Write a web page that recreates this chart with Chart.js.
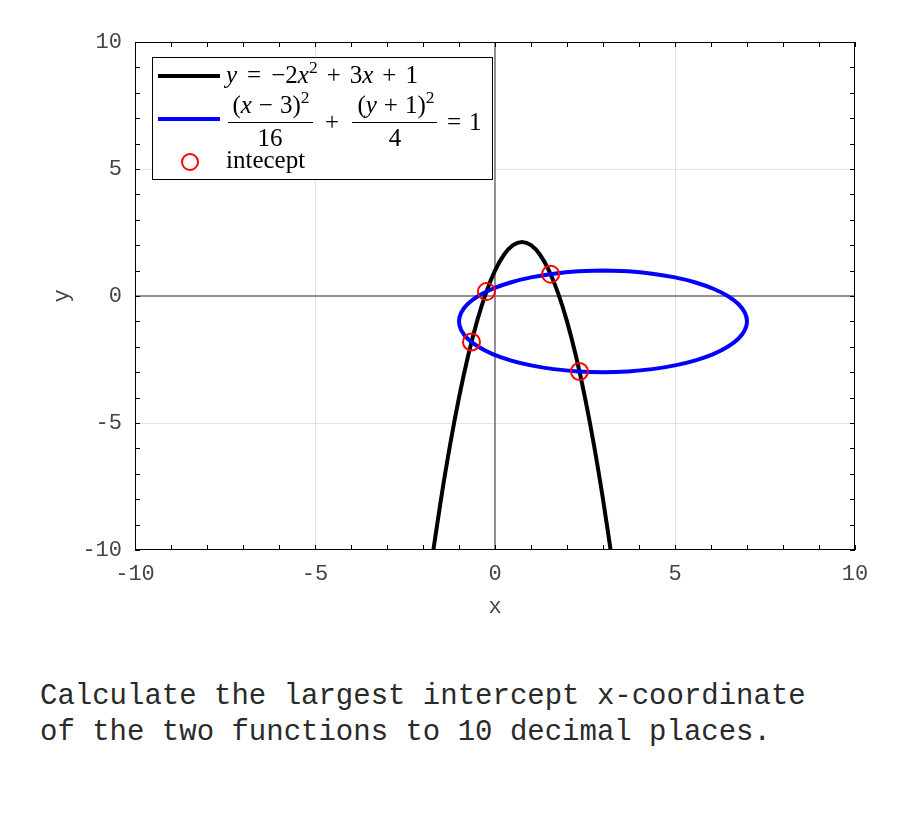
<!DOCTYPE html>
<html>
<head>
<meta charset="utf-8">
<script src="https://cdn.jsdelivr.net/npm/chart.js@4.4.1/dist/chart.umd.min.js"></script>
<style>
  body { margin: 0; background: #fff; }
  #wrap { position: relative; width: 900px; height: 640px; }
  #question { position: absolute; left: 40px; top: 679px; margin: 0; font: 29px/36px "Liberation Mono", monospace; color: #2a2a2a; white-space: pre; }
</style>
</head>
<body>
<div id="wrap"><canvas id="curveChart"></canvas></div>
<pre id="question">Calculate the largest intercept x-coordinate
of the two functions to 10 decimal places.</pre>
<script>
// y = -2x^2 + 3x + 1
const parabolaX = [-1.712, -1.5, -1.25, -1, -0.75, -0.5, -0.25, 0, 0.25, 0.5, 0.75, 1, 1.25, 1.5, 1.75, 2, 2.25, 2.5, 2.75, 3, 3.212];
const parabolaY = [-10, -8, -5.875, -4, -2.375, -1, 0.125, 1, 1.625, 2, 2.125, 2, 1.625, 1, 0.125, -1, -2.375, -4, -5.875, -8, -10];

// (x-3)^2/16 + (y+1)^2/4 = 1, starting at the top and going clockwise
const ellipseX = [3, 3.695, 4.368, 5.000, 5.571, 6.064, 6.464, 6.759, 6.939, 7, 6.939, 6.759, 6.464, 6.064, 5.571, 5.000, 4.368, 3.695,
  3, 2.305, 1.632, 1.000, 0.429, -0.064, -0.464, -0.759, -0.939, -1, -0.939, -0.759, -0.464, -0.064, 0.429, 1.000, 1.632, 2.305, 3];
const ellipseY = [1, 0.970, 0.879, 0.732, 0.532, 0.286, 0.000, -0.316, -0.653, -1, -1.347, -1.684, -2.000, -2.286, -2.532, -2.732, -2.879, -2.970,
  -3, -2.970, -2.879, -2.732, -2.532, -2.286, -2.000, -1.684, -1.347, -1, -0.653, -0.316, 0.000, 0.286, 0.532, 0.732, 0.879, 0.970, 1];

const interceptX = [-0.653, -0.238, 1.545, 2.346];
const interceptY = [-1.812, 0.173, 0.861, -2.970];

const tickValues = [-10, -5, 0, 5, 10];
const minorTicks = [-10, -9, -8, -7, -6, -5, -4, -3, -2, -1, 0, 1, 2, 3, 4, 5, 6, 7, 8, 9, 10];

const toPoints = (xs, ys) => xs.map((x, i) => ({ x: x, y: ys[i] }));

const monoFont = { family: '"Liberation Mono", monospace', size: 22 };
const labelColor = '#444';
const serif = '"Liberation Serif", "DejaVu Serif", serif';

function gridColor(ctx) {
  const v = ctx.tick.value;
  return (v === 5 || v === -5) ? '#e3e3e3' : 'rgba(0,0,0,0)';
}

// runs: {t: text, i: italic, sup: superscript} or {gap: px}
function drawRuns(ctx, runs, x, y, size, align) {
  const parts = runs.map(r => {
    if (r.gap) return { r: r, w: r.gap };
    const s = r.sup ? size * 0.7 : size;
    const font = (r.i ? 'italic ' : '') + s + 'px ' + serif;
    ctx.font = font;
    return { r: r, font: font, w: ctx.measureText(r.t).width, dy: r.sup ? -size * 0.42 : 0 };
  });
  const total = parts.reduce((a, p) => a + p.w, 0);
  let cx = align === 'center' ? x - total / 2 : x;
  parts.forEach(p => {
    if (!p.r.gap) {
      ctx.font = p.font;
      ctx.fillText(p.r.t, cx, y + p.dy);
    }
    cx += p.w;
  });
  return total;
}

const axesPlugin = {
  id: 'axesPlugin',
  beforeDatasetsDraw(chart) {
    const { ctx, chartArea: a, scales: { x, y } } = chart;
    ctx.save();
    ctx.strokeStyle = '#6e6e6e';
    ctx.lineWidth = 1.5;
    ctx.beginPath();
    const x0 = x.getPixelForValue(0), y0 = y.getPixelForValue(0);
    ctx.moveTo(x0, a.top); ctx.lineTo(x0, a.bottom);
    ctx.moveTo(a.left, y0); ctx.lineTo(a.right, y0);
    ctx.stroke();
    ctx.restore();
  },
  afterDraw(chart) {
    const { ctx, chartArea: a, scales: { x, y } } = chart;
    ctx.save();
    // frame + minor ticks
    ctx.strokeStyle = '#000';
    ctx.lineWidth = 1;
    ctx.strokeRect(a.left + 0.5, a.top + 0.5, a.right - a.left - 1, a.bottom - a.top - 1);
    ctx.beginPath();
    minorTicks.forEach(v => {
      const px = Math.round(x.getPixelForValue(v)) + 0.5;
      const py = Math.round(y.getPixelForValue(v)) + 0.5;
      ctx.moveTo(px, a.bottom); ctx.lineTo(px, a.bottom - 5);
      ctx.moveTo(px, a.top); ctx.lineTo(px, a.top + 5);
      ctx.moveTo(a.left, py); ctx.lineTo(a.left + 5, py);
      ctx.moveTo(a.right, py); ctx.lineTo(a.right - 5, py);
    });
    ctx.stroke();

    // legend
    const ds = chart.data.datasets;
    const size = 25;
    ctx.fillStyle = '#fff';
    ctx.fillRect(152, 57, 340, 122);
    ctx.strokeStyle = '#000';
    ctx.strokeRect(152.5, 57.5, 340, 122);
    ctx.lineWidth = 4;
    ctx.strokeStyle = ds[0].borderColor;
    ctx.beginPath(); ctx.moveTo(158, 76); ctx.lineTo(220, 76); ctx.stroke();
    ctx.strokeStyle = ds[1].borderColor;
    ctx.beginPath(); ctx.moveTo(158, 119); ctx.lineTo(220, 119); ctx.stroke();
    ctx.strokeStyle = ds[2].borderColor;
    ctx.lineWidth = 2;
    ctx.beginPath(); ctx.arc(190, 162, 8, 0, Math.PI * 2); ctx.stroke();

    ctx.fillStyle = '#000';
    ctx.strokeStyle = '#000';
    ctx.textAlign = 'left';
    ctx.textBaseline = 'alphabetic';
    drawRuns(ctx, [{ t: 'y', i: true }, { gap: 10 }, { t: '=' }, { gap: 10 }, { t: '\u22122' }, { t: 'x', i: true }, { t: '2', sup: true },
      { gap: 9 }, { t: '+' }, { gap: 9 }, { t: '3' }, { t: 'x', i: true }, { gap: 9 }, { t: '+' }, { gap: 9 }, { t: '1' }], 226, 83, size);
    // fractions
    drawRuns(ctx, [{ t: '(' }, { t: 'x', i: true }, { gap: 7 }, { t: '\u2212' }, { gap: 7 }, { t: '3)' }, { t: '2', sup: true }], 271, 113, size, 'center');
    drawRuns(ctx, [{ t: '16' }], 270, 146, size, 'center');
    drawRuns(ctx, [{ t: '+' }], 332, 130, size, 'center');
    drawRuns(ctx, [{ t: '(' }, { t: 'y', i: true }, { gap: 7 }, { t: '+' }, { gap: 7 }, { t: '1)' }, { t: '2', sup: true }], 396, 113, size, 'center');
    drawRuns(ctx, [{ t: '4' }], 395, 146, size, 'center');
    drawRuns(ctx, [{ t: '=' }, { gap: 8 }, { t: '1' }], 447, 130, size);
    ctx.lineWidth = 1;
    ctx.beginPath();
    ctx.moveTo(228, 122.5); ctx.lineTo(313, 122.5);
    ctx.moveTo(352, 122.5); ctx.lineTo(437, 122.5);
    ctx.stroke();
    drawRuns(ctx, [{ t: 'intecept' }], 226, 168, size);
    ctx.restore();
  }
};

const config = {
  type: 'scatter',
  data: {
    datasets: [{
      label: 'parabola',
      data: toPoints(parabolaX, parabolaY),
      showLine: true,
      borderColor: '#000000',
      borderWidth: 4,
      pointRadius: 0,
      cubicInterpolationMode: 'monotone',
      order: 2
    }, {
      label: 'ellipse',
      data: toPoints(ellipseX, ellipseY),
      showLine: true,
      borderColor: '#0000ff',
      borderWidth: 4,
      pointRadius: 0,
      tension: 0.4,
      order: 1
    }, {
      label: 'intecept',
      data: toPoints(interceptX, interceptY),
      showLine: false,
      borderColor: '#ff0000',
      backgroundColor: 'rgba(0,0,0,0)',
      borderWidth: 2,
      pointRadius: 8.5,
      order: 0
    }]
  },
  options: {
    responsive: true,
    maintainAspectRatio: false,
    animation: false,
    layout: { padding: { left: 46, right: 45, top: 42, bottom: 17 } },
    plugins: { legend: { display: false }, tooltip: { enabled: false } },
    scales: {
      x: {
        type: 'linear', min: -10, max: 10,
        afterFit: s => { s.height = 73; },
        afterBuildTicks: s => { s.ticks = tickValues.map(v => ({ value: v })); },
        ticks: { font: monoFont, color: labelColor, padding: 11, maxRotation: 0 },
        grid: { color: gridColor, drawTicks: false },
        border: { display: false },
        title: { display: true, text: 'x', font: monoFont, color: labelColor, padding: { top: 4, bottom: 3 } }
      },
      y: {
        type: 'linear', min: -10, max: 10,
        afterFit: s => { s.width = 89; },
        afterBuildTicks: s => { s.ticks = tickValues.map(v => ({ value: v })); },
        ticks: { font: monoFont, color: labelColor, padding: 13 },
        grid: { color: gridColor, drawTicks: false },
        border: { display: false },
        title: { display: true, text: 'y', font: monoFont, color: labelColor, padding: { top: 3, bottom: 4 } }
      }
    }
  },
  plugins: [axesPlugin]
};

const curveChart = new Chart(document.getElementById('curveChart'), config);
</script>
</body>
</html>
